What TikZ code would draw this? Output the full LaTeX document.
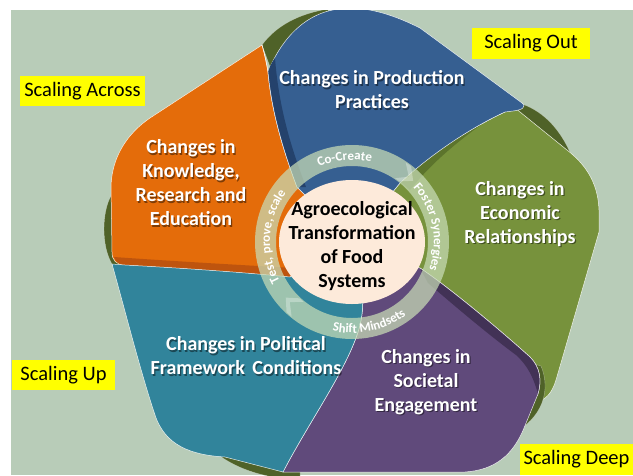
\documentclass[tikz,border=0pt]{standalone}
\usepackage{fontspec}
\setmainfont{Carlito}
\usetikzlibrary{decorations.text}
\definecolor{bgc}{RGB}{184,204,184}
\definecolor{bluec}{RGB}{54,95,145}
\definecolor{dbluec}{RGB}{36,66,108}
\definecolor{greenc}{RGB}{119,146,60}
\definecolor{dgreenc}{RGB}{92,116,44}
\definecolor{olivec}{RGB}{79,98,40}
\definecolor{purplec}{RGB}{96,74,123}
\definecolor{dpurplec}{RGB}{66,50,86}
\definecolor{tealc}{RGB}{49,132,155}
\definecolor{orangec}{RGB}{228,108,10}
\definecolor{dorangec}{RGB}{190,84,14}
\definecolor{creamc}{RGB}{253,234,218}
\definecolor{ringc}{RGB}{200,220,182}
\definecolor{yellowc}{RGB}{255,255,0}
\newcommand{\ringfont}{\bfseries\fontsize{13}{13}\selectfont}
\newcommand{\ptxt}[3]{\node[pshadow] at ([xshift=1.2pt,yshift=-1.2pt]#1) {#3}; \node[ptext] (#2) at (#1) {#3};}
\begin{document}
\begin{tikzpicture}[x=1pt,y=1pt,
  petal/.style={draw=white, line width=0.5pt, draw opacity=0.85},
  sliver/.style={fill=olivec, draw=white, line width=0.4pt, draw opacity=0.4},
  spoke/.style={draw=white, line width=0.5pt, draw opacity=0.85},
  ptext/.style={text=white, font=\bfseries\fontsize{20}{24}\selectfont, align=center, inner sep=0pt},
  pshadow/.style={ptext, text=black, text opacity=0.45},
  ctext/.style={text=black, font=\bfseries\fontsize{20}{24}\selectfont, align=center, inner sep=0pt},
  ybox/.style={fill=yellowc, text=black, font=\fontsize{20.5}{24}\selectfont, inner sep=0pt}
]
\useasboundingbox (0,0) rectangle (633,-475);
\fill[bgc] (11,-10) rectangle (633,-475);

\begin{scope}
\clip (11,-10) rectangle (633,-475);
% dark base slivers
\path[sliver] (262,-45) .. controls (276,-26) and (298,-14) .. (328,-9) -- (330,-40) -- (275,-80) -- cycle;
\path[sliver] (522,-104) .. controls (545,-112) and (563,-132) .. (574,-162) -- (540,-140) -- (513,-110) -- cycle;
\path[sliver] (111,-196) .. controls (102,-212) and (101,-245) .. (112,-264) -- (130,-268) -- (130,-196) -- cycle;
\path[sliver] (220,-456) .. controls (240,-470) and (265,-478) .. (300,-480) -- (300,-445) -- (220,-445) -- cycle;
% green petal
\path[petal, fill=greenc] (352,-242) -- (400,-183) .. controls (430,-155) and (470,-128) .. (505,-112) .. controls (511,-108) and (516,-107) .. (520,-112) -- (567,-150) .. controls (585,-164) and (598,-182) .. (599,-210) -- (599,-232) -- (556,-380) .. controls (552,-393) and (546,-400) .. (536,-402) -- (470,-340) -- cycle;
\fill[dgreenc] (401,-182) .. controls (430,-155) and (455,-139) .. (482,-124) .. controls (460,-140) and (432,-162) .. (410,-190) -- cycle;
\path[sliver] (541,-366) .. controls (551,-390) and (543,-418) .. (512,-434) -- (480,-400) -- (520,-360) -- cycle;
% purple petal
\path[petal, fill=purplec] (352,-242) -- (420,-268) .. controls (450,-288) and (500,-330) .. (530,-357) .. controls (540,-367) and (542,-380) .. (538,-394) -- (524,-428) .. controls (513,-455) and (495,-470) .. (465,-472) -- (283,-472) .. controls (310,-420) and (350,-365) .. (360,-325) .. controls (366,-300) and (362,-275) .. (352,-242) -- cycle;
\fill[dpurplec] (420,-268) .. controls (450,-288) and (500,-330) .. (530,-357) .. controls (540,-367) and (542,-380) .. (538,-394) .. controls (533,-376) and (527,-365) .. (516,-355) .. controls (485,-332) and (450,-302) .. (428,-283) -- cycle;
\path[spoke] (420,-268) .. controls (450,-288) and (500,-330) .. (530,-357) .. controls (540,-367) and (542,-380) .. (538,-394);
% orange petal
\path[petal, fill=orangec] (352,-242) -- (297,-187) .. controls (285,-155) and (272,-115) .. (268,-72) .. controls (266,-60) and (264,-52) .. (262,-45) -- (150,-118) .. controls (128,-133) and (112,-156) .. (111,-186) -- (112,-252) .. controls (112,-260) and (116,-265) .. (125,-265) .. controls (180,-268) and (240,-272) .. (290,-277) -- cycle;
\fill[dorangec] (114,-257) .. controls (170,-261) and (240,-265) .. (294,-268) -- (290,-277) .. controls (240,-272) and (180,-268) .. (125,-265) .. controls (119,-265) and (116,-262) .. (114,-257) -- cycle;
% blue petal
\path[petal, fill=bluec] (352,-242) -- (297,-187) .. controls (285,-155) and (272,-115) .. (268,-72) .. controls (280,-42) and (300,-20) .. (325,-12) .. controls (350,-4) and (380,-8) .. (420,-28) -- (522,-103) .. controls (527,-107) and (522,-110) .. (513,-111) -- (505,-112) .. controls (470,-128) and (430,-155) .. (400,-183) -- cycle;
\fill[dbluec] (297,-187) .. controls (285,-155) and (272,-115) .. (268,-72) .. controls (270,-66) and (272,-62) .. (275,-58) .. controls (279,-110) and (292,-150) .. (306,-187) -- cycle;
\path[spoke] (297,-187) .. controls (285,-155) and (272,-115) .. (268,-72) .. controls (266,-60) and (264,-52) .. (262,-45);
% teal petal
\path[petal, fill=tealc] (352,-242) -- (290,-277) .. controls (240,-272) and (180,-268) .. (125,-265) -- (112,-264) .. controls (125,-310) and (140,-370) .. (155,-415) .. controls (165,-445) and (190,-455) .. (225,-457) -- (283,-472) .. controls (310,-420) and (350,-365) .. (360,-325) .. controls (366,-300) and (362,-275) .. (352,-242) -- cycle;
\end{scope}

% ring and centre
\begin{scope}[shift={(352,-242)}]
\fill[ringc, fill opacity=0.72, even odd rule] (0,0) circle[radius=97pt] (0,0) circle[radius=76pt];
\foreach \a in {51,226} {
  \fill[white, fill opacity=0.3] ({\a+5}:96pt) -- ({\a-2}:86.5pt) -- ({\a+5}:77pt) -- ({\a+1}:77pt) -- ({\a-6}:86.5pt) -- ({\a+1}:96pt) -- cycle;
}
\fill[creamc] (0,0) ellipse[x radius=73pt, y radius=62pt];
\path[decorate, decoration={text along path, text align=center, text color=white, text={|\ringfont|Co-Create}}] (130:82pt) arc[start angle=130, end angle=60, radius=82pt];
\path[decorate, decoration={text along path, text align=center, text color=white, text={|\ringfont|Foster Synergies}}] (61:82pt) arc[start angle=61, end angle=-39, radius=82pt];
\path[decorate, decoration={text along path, text align=center, text color=white, text={|\ringfont|Test, prove, scale}}] (231:82pt) arc[start angle=231, end angle=121, radius=82pt];
\path[decorate, decoration={text along path, text align=center, text color=white, text={|\ringfont|Shift Mindsets}}] (-128:91pt) arc[start angle=-128, end angle=-28, radius=91pt];
\end{scope}
\node[ctext] (centre) at (352,-246) {Agroecological\\Transformation\\of Food\\Systems};

% petal labels
\coordinate (tblue) at (372,-90);
\coordinate (torange) at (191,-183);
\coordinate (tgreen) at (520,-214);
\coordinate (tteal) at (246,-356);
\coordinate (tpurple) at (426,-382);
\ptxt{tblue}{nblue}{Changes in Production\\Practices}
\ptxt{torange}{norange}{Changes in\\Knowledge,\\Research and\\Education}
\ptxt{tgreen}{ngreen}{Changes in\\Economic\\Relationships}
\ptxt{tteal}{nteal}{Changes in Political\\Framework\hspace{3pt} Conditions}
\ptxt{tpurple}{npurple}{Changes in\\Societal\\Engagement}

% scaling labels
\node[ybox, minimum width=125pt, minimum height=30pt] (sacross) at (82.5,-91) {Scaling Across};
\node[ybox, minimum width=118pt, minimum height=31pt] (sout) at (531,-43.5) {Scaling Out};
\node[ybox, minimum width=103pt, minimum height=30pt] (sup) at (63.5,-375) {Scaling Up};
\node[ybox, minimum width=113pt, minimum height=31pt] (sdeep) at (576.5,-459.5) {Scaling Deep};
\end{tikzpicture}
\end{document}
